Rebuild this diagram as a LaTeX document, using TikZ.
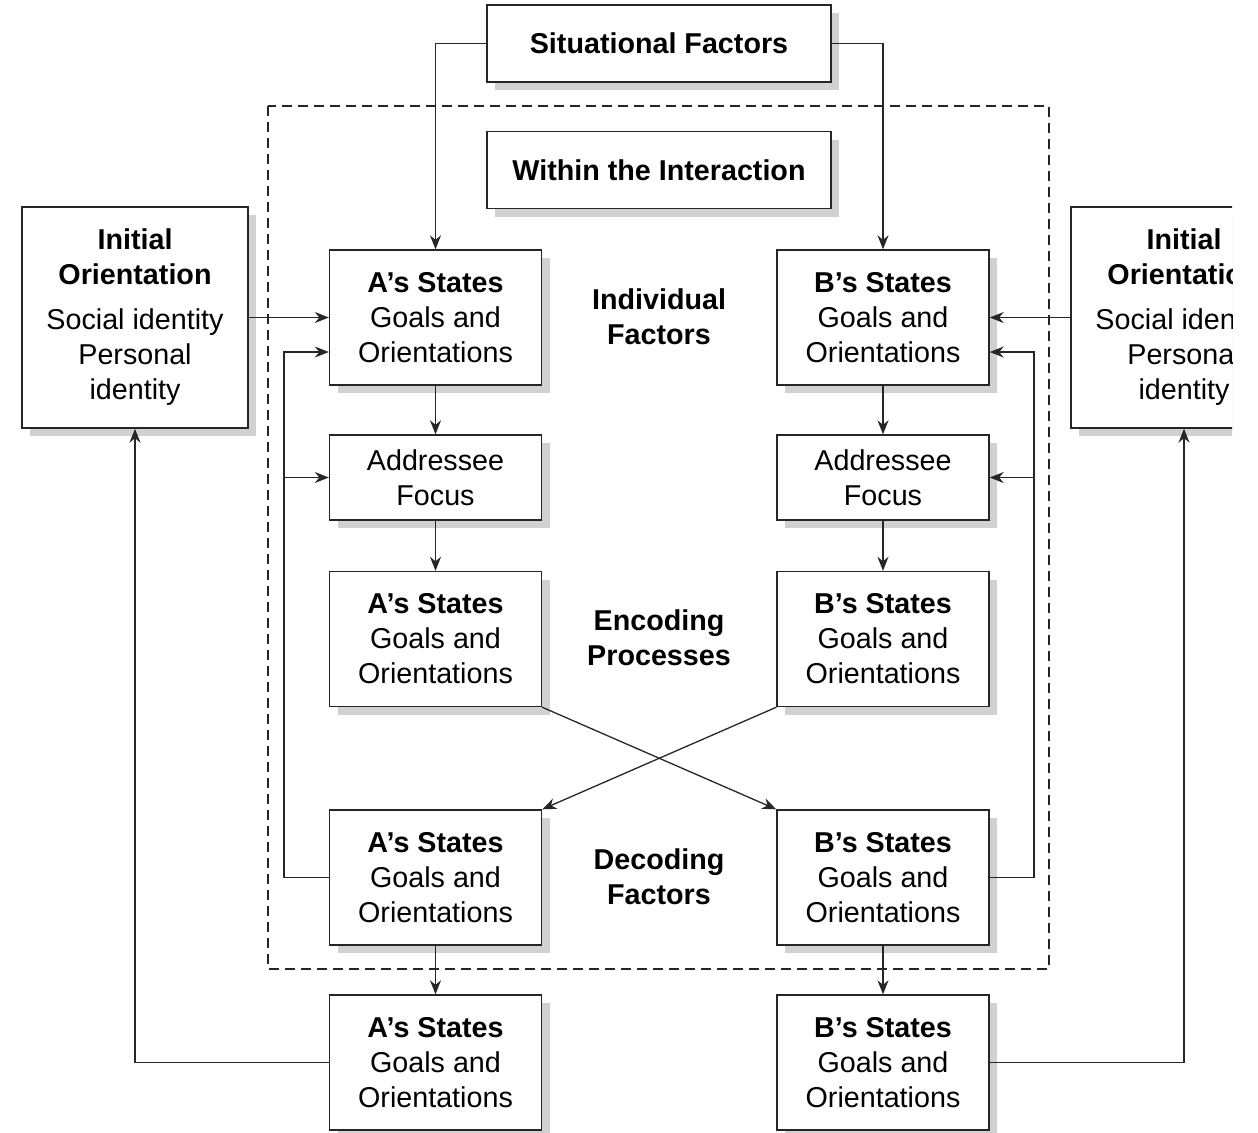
\documentclass[tikz,border=0pt]{standalone}
\usepackage{fontspec}
\setmainfont{Liberation Sans}
\usetikzlibrary{arrows.meta,shadows}
\begin{document}
\begin{tikzpicture}[x=0.5pt,y=-0.5pt,
  box/.style={draw=black!85, line width=0.7pt, fill=white, align=center, inner sep=0pt,
    font=\fontsize{14.35}{17.5}\selectfont,
    drop shadow={shadow xshift=4pt, shadow yshift=-4pt, fill=black!18, opacity=1}},
  statebox/.style={box, minimum width=106pt, minimum height=67.5pt},
  focusbox/.style={box, minimum width=106pt, minimum height=42.5pt},
  widebox/.style={box, minimum width=172pt, minimum height=38.5pt},
  initbox/.style={box, minimum width=113pt, minimum height=110.5pt},
  midlabel/.style={align=center, inner sep=0pt, font=\fontsize{14.35}{17.5}\selectfont\bfseries},
  arr/.style={draw=black!85, line width=0.65pt, -{Stealth[length=7pt,width=5.5pt]}},
  ln/.style={draw=black!85, line width=0.65pt}]
\useasboundingbox (0,0) rectangle (1258,1132);

% dashed frame
\draw[black!85, line width=0.6pt, dash pattern=on 5pt off 3pt] (268,106) rectangle (1049,969);

% top boxes
\node[widebox] (sit) at (659,43.5) {\textbf{Situational Factors}};
\node[widebox] (win) at (659,170) {\textbf{Within the Interaction}};

% initial orientation boxes
\node[initbox] (L) at (135,317.5) {\textbf{Initial}\\\textbf{Orientation}\\[5pt]Social identity\\Personal\\identity};
\begin{scope}
\clip (0,0) rectangle (1232,1132);
\node[initbox] (R) at (1184,317.5) {\textbf{Initial}\\\textbf{Orientation}\\[5pt]Social identity\\Personal\\identity};
\end{scope}

% A column
\node[statebox] (A1) at (435.5,317.5) {\textbf{A’s States}\\Goals and\\Orientations};
\node[focusbox] (A2) at (435.5,477.5) {Addressee\\Focus};
\node[statebox] (A3) at (435.5,639) {\textbf{A’s States}\\Goals and\\Orientations};
\node[statebox] (A4) at (435.5,877.5) {\textbf{A’s States}\\Goals and\\Orientations};
\node[statebox] (A5) at (435.5,1062.5) {\textbf{A’s States}\\Goals and\\Orientations};

% B column
\node[statebox] (B1) at (883,317.5) {\textbf{B’s States}\\Goals and\\Orientations};
\node[focusbox] (B2) at (883,477.5) {Addressee\\Focus};
\node[statebox] (B3) at (883,639) {\textbf{B’s States}\\Goals and\\Orientations};
\node[statebox] (B4) at (883,877.5) {\textbf{B’s States}\\Goals and\\Orientations};
\node[statebox] (B5) at (883,1062.5) {\textbf{B’s States}\\Goals and\\Orientations};

% middle labels
\node[midlabel] (m1) at (659,317) {Individual\\Factors};
\node[midlabel] (m2) at (659,637.5) {Encoding\\Processes};
\node[midlabel] (m3) at (659,877) {Decoding\\Factors};

% connectors
\draw[arr] (sit.west) -| (A1.north);
\draw[arr] (sit.east) -| (B1.north);
\draw[arr] (L.east) -- (A1.west);
\draw[arr] (R.west) -- (B1.east);

\draw[arr] (A1.south) -- (A2.north);
\draw[arr] (A2.south) -- (A3.north);
\draw[arr] (A4.south) -- (A5.north);
\draw[arr] (B1.south) -- (B2.north);
\draw[arr] (B2.south) -- (B3.north);
\draw[arr] (B4.south) -- (B5.north);

\draw[arr] (A3.south east) -- (B4.north west);
\draw[arr] (B3.south west) -- (A4.north east);

\coordinate (ja) at (284,477.5);
\coordinate (jb) at (1034,477.5);
\draw[arr] (A4.west) -- (284,877.5) |- (A1.west |- 0,352);
\draw[arr] (ja) -- (A2.west);
\draw[arr] (B4.east) -- (1034,877.5) |- (B1.east |- 0,352);
\draw[arr] (jb) -- (B2.east);

\draw[arr] (A5.west) -| (L.south);
\draw[arr] (B5.east) -| (R.south);
\end{tikzpicture}
\end{document}
